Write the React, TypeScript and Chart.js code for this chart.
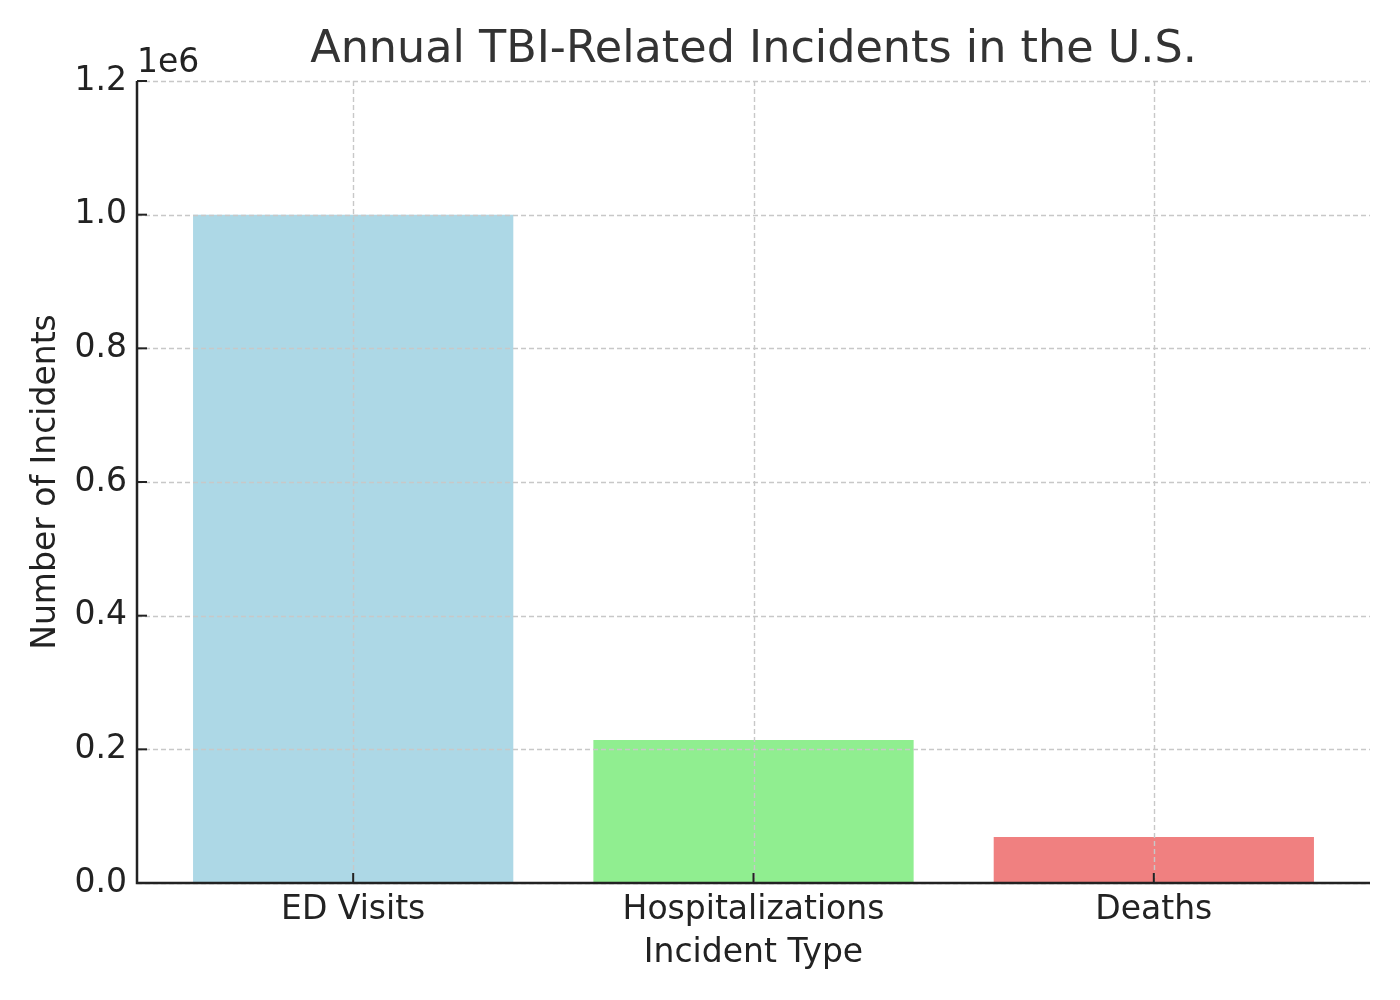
import React, { useEffect, useRef } from "react";
import { Chart, registerables } from "chart.js";

Chart.register(...registerables);

const categories = ["ED Visits", "Hospitalizations", "Deaths"];
const incidents = [1000000, 214000, 69000];
const barColors = ["#ADD8E6", "#90EE90", "#F08080"];
const yTicks = [0, 200000, 400000, 600000, 800000, 1000000, 1200000];
const titleText = "Annual TBI-Related Incidents in the U.S.";
const xTitle = "Incident Type";
const yTitle = "Number of Incidents";
const offsetText = "1e6";

const FONT = "'DejaVu Sans', sans-serif";

const decorPlugin = {
  id: "decor",
  afterDatasetsDraw(chart: any) {
    const { ctx, chartArea } = chart;
    const xs = chart.scales.x;
    const ys = chart.scales.y;
    ctx.save();
    // grid (drawn above bars)
    ctx.strokeStyle = "#c8c8c8";
    ctx.lineWidth = 1.4;
    ctx.setLineDash([5, 3]);
    yTicks.forEach((v) => {
      const py = Math.round(ys.getPixelForValue(v)) + 0.5;
      ctx.beginPath();
      ctx.moveTo(chartArea.left, py);
      ctx.lineTo(chartArea.right, py);
      ctx.stroke();
    });
    categories.forEach((_, i) => {
      const px = Math.round(xs.getPixelForValue(i)) + 0.5;
      ctx.beginPath();
      ctx.moveTo(px, chartArea.top);
      ctx.lineTo(px, chartArea.bottom);
      ctx.stroke();
    });
    ctx.setLineDash([]);
    // spines
    ctx.strokeStyle = "#222222";
    ctx.lineWidth = 2.5;
    ctx.beginPath();
    ctx.moveTo(chartArea.left, chartArea.top);
    ctx.lineTo(chartArea.left, chartArea.bottom);
    ctx.lineTo(chartArea.right, chartArea.bottom);
    ctx.stroke();
    // inward ticks
    ctx.lineWidth = 2;
    yTicks.forEach((v) => {
      const py = ys.getPixelForValue(v);
      ctx.beginPath();
      ctx.moveTo(chartArea.left, py);
      ctx.lineTo(chartArea.left + 10, py);
      ctx.stroke();
    });
    categories.forEach((_, i) => {
      const px = xs.getPixelForValue(i);
      ctx.beginPath();
      ctx.moveTo(px, chartArea.bottom);
      ctx.lineTo(px, chartArea.bottom - 10);
      ctx.stroke();
    });
    ctx.restore();
  },
  afterDraw(chart: any) {
    const { ctx, chartArea } = chart;
    ctx.save();
    ctx.fillStyle = "#333333";
    ctx.font = `44.5px ${FONT}`;
    ctx.textAlign = "center";
    ctx.textBaseline = "middle";
    ctx.fillText(titleText, (chartArea.left + chartArea.right) / 2, 50);

    ctx.fillStyle = "#222222";
    ctx.font = `33px ${FONT}`;
    ctx.fillText(xTitle, (chartArea.left + chartArea.right) / 2, 953);

    ctx.save();
    ctx.translate(46, (chartArea.top + chartArea.bottom) / 2);
    ctx.rotate(-Math.PI / 2);
    ctx.fillText(yTitle, 0, 0);
    ctx.restore();

    ctx.font = `33px ${FONT}`;
    ctx.textAlign = "left";
    ctx.textBaseline = "alphabetic";
    ctx.fillText(offsetText, chartArea.left, 72);
    ctx.restore();
  },
};

export default function App() {
  const ref = useRef<HTMLCanvasElement>(null);
  useEffect(() => {
    if (!ref.current) return;
    const chart = new Chart(ref.current, {
      type: "bar",
      data: {
        datasets: [
          {
            data: categories.map((_, i) => ({ x: i, y: incidents[i] })),
            backgroundColor: barColors,
            borderWidth: 0,
            categoryPercentage: 1,
            barPercentage: 0.8,
          },
        ],
      },
      options: {
        animation: false,
        responsive: false,
        devicePixelRatio: 1,
        layout: { padding: { top: 81, right: 30, left: 0, bottom: 0 } },
        plugins: {
          legend: { display: false },
          tooltip: { enabled: false },
          title: { display: false },
        },
        scales: {
          x: {
            type: "linear",
            offset: false,
            min: -0.54,
            max: 2.54,
            grid: { display: false, drawTicks: false, tickLength: 0 },
            border: { display: false },
            afterBuildTicks: (s: any) => {
              s.ticks = categories.map((_, i) => ({ value: i }));
            },
            afterFit: (s: any) => {
              s.height = 117;
            },
            ticks: {
              autoSkip: false,
              maxRotation: 0,
              padding: 8,
              color: "#222222",
              font: { family: FONT, size: 33 },
              callback: (v: any) => categories[v as number] ?? "",
            },
          },
          y: {
            type: "linear",
            min: 0,
            max: 1200000,
            grid: { display: false, drawTicks: false, tickLength: 0 },
            border: { display: false },
            afterFit: (s: any) => {
              s.width = 137;
            },
            ticks: {
              stepSize: 200000,
              padding: 10,
              color: "#222222",
              font: { family: FONT, size: 33 },
              callback: (v: any) => ((v as number) / 1e6).toFixed(1),
            },
          },
        },
      },
      plugins: [decorPlugin],
    } as any);
    return () => chart.destroy();
  }, []);
  return (
    <div style={{ position: "fixed", left: 0, top: 0, width: 1400, height: 1000, background: "#fff" }}>
      <canvas ref={ref} width={1400} height={1000} />
    </div>
  );
}
